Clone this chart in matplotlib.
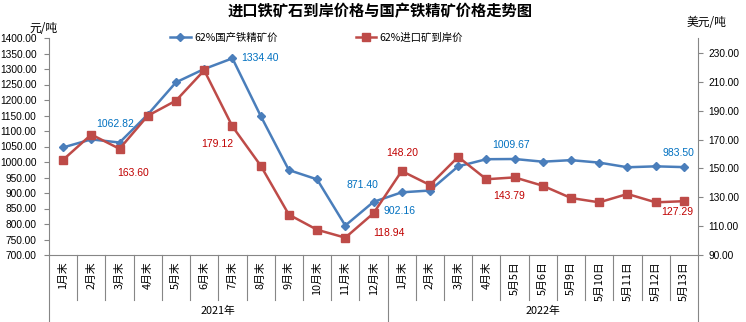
import matplotlib
matplotlib.use("Agg")
import matplotlib.pyplot as plt
from matplotlib.transforms import blended_transform_factory
import numpy as np

plt.rcParams['font.family'] = ['Liberation Sans', 'Noto Sans CJK SC', 'DejaVu Sans']

# ---------------- data ----------------
categories = ['1月末', '2月末', '3月末', '4月末', '5月末', '6月末', '7月末', '8月末',
              '9月末', '10月末', '11月末', '12月末',
              '1月末', '2月末', '3月末', '4月末', '5月5日', '5月6日', '5月9日',
              '5月10日', '5月11日', '5月12日', '5月13日']
groups = ['2021年', '2022年']
group_sizes = [12, 11]

domestic = [1047, 1073, 1062.82, 1153, 1257, 1300, 1334.40, 1149, 974, 944, 795, 871.40,
            902.16, 908, 986, 1009, 1009.67, 1001, 1006, 998, 983, 986, 983.50]
imported = [156, 173.5, 163.60, 186.5, 197, 218, 179.12, 152, 118, 107.5, 102, 118.94,
            148.20, 138.5, 158, 142.5, 143.79, 138, 129.5, 126.5, 132.3, 126.5, 127.29]

series_names = ['62%国产铁精矿价', '62%进口矿到岸价']
title = '进口铁矿石到岸价格与国产铁精矿价格走势图'
left_unit = '元/吨'
right_unit = '美元/吨'

left_ticks = np.arange(700, 1401, 50)
right_ticks = np.arange(90, 231, 20)

# labelled points (index) and label offsets in pixels
domestic_label_idx = [2, 6, 11, 12, 16, 22]
domestic_label_off = [(-4, 19), (28, 0), (-11, 17), (-2, -19), (-4, 14), (-5, 14)]
imported_label_idx = [2, 6, 11, 12, 16, 22]
imported_label_off = [(14, -24), (-15, -18), (15, -20), (0, 18), (-5, -19), (-7, -11)]

# ---------------- styles ----------------
W, H = 746, 322
X0, X1, Y0, Y1 = 49, 698, 38, 255
blue = '#4A7EBB'
red = '#BE4B48'
blue_txt = '#0070C0'
red_txt = '#C00000'
grey = '#868686'
cjk = ['Noto Sans CJK SC', 'DejaVu Sans']
num_font = ['Liberation Sans', 'DejaVu Sans']

fig = plt.figure(figsize=(W / 100, H / 100), dpi=100)
ax = fig.add_axes([X0 / W, (H - Y1) / H, (X1 - X0) / W, (Y1 - Y0) / H])
ax2 = ax.twinx()

n = len(categories)
x = np.arange(n)
ax.set_xlim(-0.5, n - 0.5)
ax.set_ylim(700, 1400)
ax2.set_ylim(90, 240.4)

l1, = ax.plot(x, domestic, color=blue, lw=1.8, marker='D', ms=4.5,
              markerfacecolor=blue, markeredgecolor=blue, zorder=3)
l2, = ax2.plot(x, imported, color=red, lw=1.8, marker='s', ms=5.5,
               markerfacecolor=red, markeredgecolor=red, zorder=3)

# axes styling
ax.set_xticks([])
ax2.set_xticks([])
ax.set_yticks(left_ticks)
ax.set_yticklabels([f'{v:.2f}' for v in left_ticks], fontfamily=num_font)
ax2.set_yticks(right_ticks)
ax2.set_yticklabels([f'{v:.2f}' for v in right_ticks], fontfamily=num_font)
ax.tick_params(axis='y', direction='out', length=3.5, width=0.8, color=grey,
               pad=5.5, labelsize=7.3, labelcolor='black')
ax2.tick_params(axis='y', direction='out', length=3.5, width=0.8, color=grey,
                pad=4, labelsize=7.3, labelcolor='black')
for a in (ax, ax2):
    a.spines['top'].set_visible(False)
    for s in ('left', 'right', 'bottom'):
        a.spines[s].set_color(grey)
        a.spines[s].set_linewidth(0.8)
ax.spines['right'].set_visible(False)
ax2.spines['left'].set_visible(False)
ax2.spines['bottom'].set_visible(False)

# category axis separators and labels
trans = blended_transform_factory(ax.transData, ax.transAxes)
ph = Y1 - Y0
sep_bottom = -(300 - Y1) / ph
grp_bottom = -(H - Y1) / ph
bounds = np.cumsum([0] + group_sizes) - 0.5
for k in range(1, n):
    if (k - 0.5) in bounds:
        continue
    ax.plot([k - 0.5, k - 0.5], [0, sep_bottom], transform=trans, clip_on=False,
            color=grey, lw=0.8)
for b in bounds:
    ax.plot([b, b], [0, grp_bottom], transform=trans, clip_on=False, color=grey, lw=0.8)

for i, c in enumerate(categories):
    ax.text(i, -(261 - Y1) / ph, c, rotation=90, ha='center', va='top',
            transform=trans, fontsize=7.8, family=cjk)
for g, start, size in zip(groups, bounds[:-1], group_sizes):
    ax.text(start + size / 2, -(311 - Y1) / ph, g, ha='center', va='center',
            transform=trans, fontsize=7.8, family=cjk)

# data labels
for i, (dx, dy) in zip(domestic_label_idx, domestic_label_off):
    ax.annotate(f'{domestic[i]:.2f}', (x[i], domestic[i]), xytext=(dx, dy),
                textcoords='offset pixels', ha='center', va='center',
                color=blue_txt, fontsize=7.5, fontfamily=num_font)
for i, (dx, dy) in zip(imported_label_idx, imported_label_off):
    ax2.annotate(f'{imported[i]:.2f}', (x[i], imported[i]), xytext=(dx, dy),
                 textcoords='offset pixels', ha='center', va='center',
                 color=red_txt, fontsize=7.5, fontfamily=num_font)

# title and units
fig.text(380 / W, 1 - 11.5 / H, title, ha='center', va='center', fontsize=11,
         fontweight='bold', family=cjk)
fig.text(43 / W, 1 - 28.5 / H, left_unit, ha='center', va='center', fontsize=8.5, family=cjk)
fig.text(706 / W, 1 - 23 / H, right_unit, ha='center', va='center', fontsize=8.5, family=cjk)

# legend
leg = fig.legend([l1, l2], series_names, loc='center left',
                 bbox_to_anchor=(170 / W, 1 - 38 / H), ncol=2, frameon=False,
                 prop={'family': cjk, 'size': 7.5}, handlelength=2, handletextpad=0.3,
                 columnspacing=7.5, borderaxespad=0, borderpad=0)

fig.savefig('out.png', dpi=100)
